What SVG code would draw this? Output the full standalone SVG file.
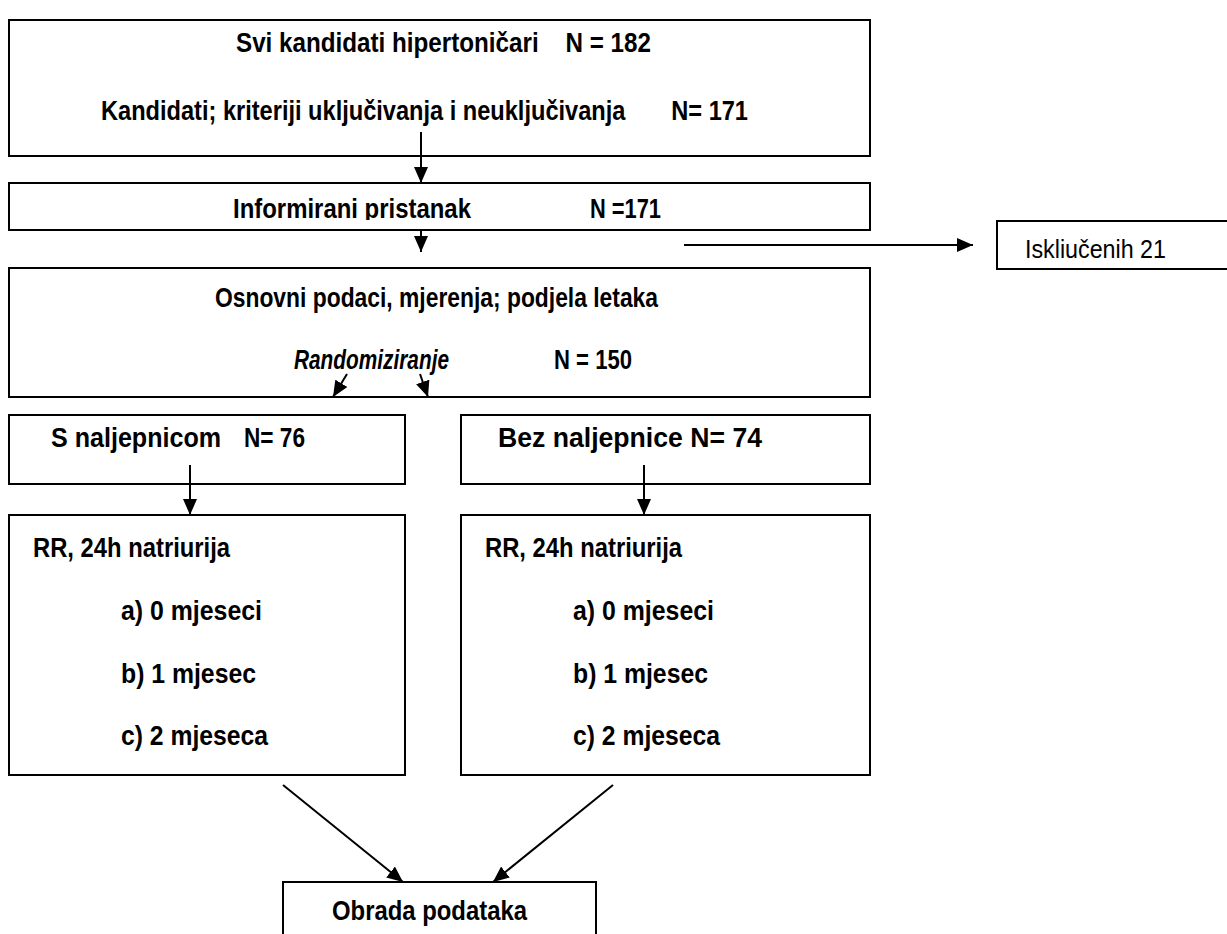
<svg xmlns="http://www.w3.org/2000/svg" width="1227" height="934" viewBox="0 0 1227 934">
<style>
.box{fill:#fff;stroke:#000;stroke-width:2}
.t{font-family:"Liberation Sans Narrow","Liberation Sans",Arial,sans-serif;font-weight:bold;font-size:27px;fill:#000}
.n{font-weight:normal;font-size:25px}
.i{font-style:italic}
.c{stroke:#000;stroke-width:2;fill:none}
</style>
<defs>
<marker id="ah" markerUnits="userSpaceOnUse" markerWidth="16" markerHeight="14" refX="16" refY="7" orient="auto">
<path d="M0,0 L16,7 L0,14 Z" fill="#000"/>
</marker>
<clipPath id="clipInf"><rect x="9" y="183" width="861" height="37"/></clipPath>
</defs>
<rect x="0" y="0" width="1227" height="934" fill="#fff"/>

<g id="n1">
<rect class="box" x="9" y="20" width="861" height="136"/>
<text class="t" x="236" y="52" textLength="415" lengthAdjust="spacingAndGlyphs">Svi kandidati hipertoničari&#160;&#160;&#160;&#160;N = 182</text>
<text class="t" x="101" y="120" textLength="647" lengthAdjust="spacingAndGlyphs">Kandidati; kriteriji uključivanja i neuključivanja&#160;&#160;&#160;&#160;&#160;&#160;&#160;N= 171</text>
</g>

<g id="n2">
<rect class="box" x="9" y="183" width="861" height="47"/>
<g clip-path="url(#clipInf)">
<text class="t" x="233" y="218" textLength="238" lengthAdjust="spacingAndGlyphs">Informirani pristanak</text>
</g>
<text class="t" x="590" y="218" textLength="71" lengthAdjust="spacingAndGlyphs">N =171</text>
</g>

<g id="n3">
<rect class="box" x="997" y="221" width="245" height="48"/>
<text class="t n" x="1025" y="258" textLength="141" lengthAdjust="spacingAndGlyphs">Iskliučenih 21</text>
</g>

<g id="n4">
<rect class="box" x="9" y="268" width="861" height="129"/>
<text class="t" x="215" y="307" textLength="443" lengthAdjust="spacingAndGlyphs">Osnovni podaci, mjerenja; podjela letaka</text>
<text class="t i" x="294" y="369" textLength="155" lengthAdjust="spacingAndGlyphs">Randomiziranje</text>
<text class="t" x="554" y="369" textLength="78" lengthAdjust="spacingAndGlyphs">N = 150</text>
</g>

<g id="n5">
<rect class="box" x="9" y="415" width="396" height="69"/>
<text class="t" x="51" y="447" textLength="170" lengthAdjust="spacingAndGlyphs">S naljepnicom</text>
<text class="t" x="244" y="447" textLength="61" lengthAdjust="spacingAndGlyphs">N= 76</text>
</g>

<g id="n6">
<rect class="box" x="461" y="415" width="409" height="69"/>
<text class="t" x="498" y="447" textLength="264" lengthAdjust="spacingAndGlyphs">Bez naljepnice N= 74</text>
</g>

<g id="n7">
<rect class="box" x="9" y="515" width="396" height="260"/>
<text class="t" x="33" y="557" textLength="197" lengthAdjust="spacingAndGlyphs">RR, 24h natriurija</text>
<text class="t" x="121" y="620" textLength="141" lengthAdjust="spacingAndGlyphs">a) 0 mjeseci</text>
<text class="t" x="121" y="683" textLength="135" lengthAdjust="spacingAndGlyphs">b) 1 mjesec</text>
<text class="t" x="121" y="745" textLength="147" lengthAdjust="spacingAndGlyphs">c) 2 mjeseca</text>
</g>

<g id="n8">
<rect class="box" x="461" y="515" width="409" height="260"/>
<text class="t" x="485" y="557" textLength="197" lengthAdjust="spacingAndGlyphs">RR, 24h natriurija</text>
<text class="t" x="573" y="620" textLength="141" lengthAdjust="spacingAndGlyphs">a) 0 mjeseci</text>
<text class="t" x="573" y="683" textLength="135" lengthAdjust="spacingAndGlyphs">b) 1 mjesec</text>
<text class="t" x="573" y="745" textLength="147" lengthAdjust="spacingAndGlyphs">c) 2 mjeseca</text>
</g>

<g id="n9">
<rect class="box" x="283" y="882" width="313" height="60"/>
<text class="t" x="332" y="920" textLength="195" lengthAdjust="spacingAndGlyphs">Obrada podataka</text>
</g>

<g id="connectors">
<line class="c" x1="421" y1="132" x2="421" y2="183" marker-end="url(#ah)"/>
<line class="c" x1="421" y1="230" x2="421" y2="252" marker-end="url(#ah)"/>
<line class="c" x1="684" y1="245" x2="973" y2="245" marker-end="url(#ah)"/>
<line class="c" x1="347" y1="374" x2="333" y2="397" marker-end="url(#ah)"/>
<line class="c" x1="420" y1="374" x2="428" y2="397" marker-end="url(#ah)"/>
<line class="c" x1="190" y1="465" x2="190" y2="515" marker-end="url(#ah)"/>
<line class="c" x1="644" y1="465" x2="644" y2="515" marker-end="url(#ah)"/>
<line class="c" x1="283" y1="785" x2="403" y2="882" marker-end="url(#ah)"/>
<line class="c" x1="613" y1="785" x2="493" y2="882" marker-end="url(#ah)"/>
</g>
</svg>
